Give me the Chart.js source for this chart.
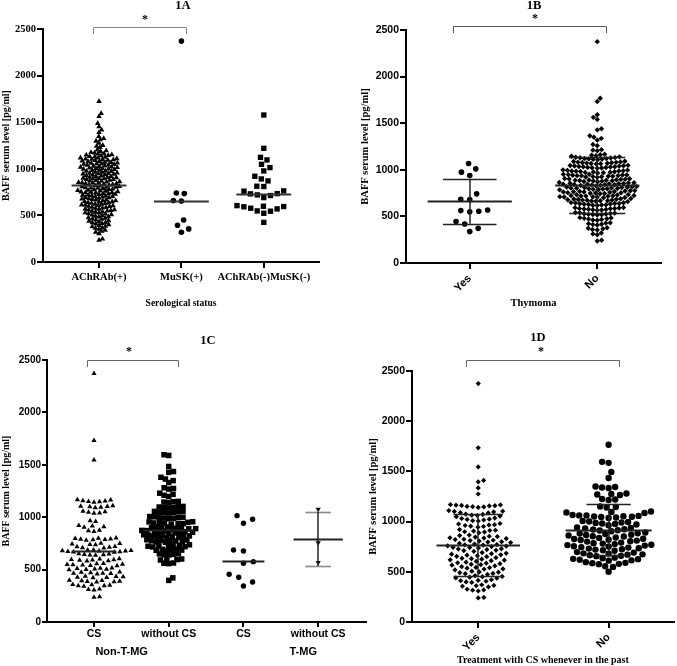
<!DOCTYPE html>
<html><head><meta charset="utf-8">
<script src="https://cdn.jsdelivr.net/npm/chart.js@4.4.1/dist/chart.umd.min.js"></script>
<style>
html,body{margin:0;padding:0;background:#fff}
body{width:677px;height:666px;position:relative;overflow:hidden}
.p{position:absolute}
canvas{display:block}
</style></head><body>
<div class="p" style="left:0;top:0"><canvas id="cA" width="338" height="320"></canvas></div>
<div class="p" style="left:338px;top:0"><canvas id="cB" width="339" height="320"></canvas></div>
<div class="p" style="left:0;top:320px"><canvas id="cC" width="370" height="346"></canvas></div>
<div class="p" style="left:338px;top:320px"><canvas id="cD" width="339" height="346"></canvas></div>
<script>
// ---------------- DATA ----------------
const yTicks = [0, 500, 1000, 1500, 2000, 2500];

// 1A  Serological status
const catsA = ['AChRAb(+)', 'MuSK(+)', 'AChRAb(-)MuSK(-)'];
const achrPos = [1722, 1594, 1563, 1488, 1452, 1418, 1391, 1347, 1326, 1312, 1298, 1276, 1252, 1243, 1229,
  1203, 1194, 1188, 1176, 1171, 1163, 1161, 1152, 1149, 1143,
  1141, 1133, 1130, 1124, 1118, 1117, 1109, 1106, 1103, 1099, 1097,
  1093, 1091, 1084, 1080, 1078, 1071, 1068, 1063, 1061, 1055, 1052, 1049,
  1046, 1041, 1039, 1032, 1029, 1027, 1020, 1017, 1014, 1009, 1005, 1004, 998,
  995, 993, 986, 984, 978, 974, 971, 965, 963, 957, 954, 951, 948,
  944, 942, 936, 934, 928, 925, 919, 917, 911, 908, 906, 901, 897,
  895, 893, 887, 885, 878, 876, 870, 868, 861, 859, 854, 851, 848,
  847, 842, 840, 834, 832, 827, 825, 819, 817, 811, 809, 804, 803, 797,
  795, 793, 787, 785, 779, 777, 771, 769, 763, 761, 756, 753, 750, 747,
  744, 742, 736, 734, 728, 726, 720, 718, 712, 710, 704, 703, 698,
  694, 691, 685, 682, 676, 673, 667, 665, 659, 657, 651, 648,
  646, 640, 637, 631, 628, 622, 620, 614, 612, 606, 604, 599,
  596, 589, 586, 580, 577, 570, 568, 561, 559, 553, 549,
  546, 539, 536, 529, 526, 519, 516, 509, 506, 499,
  493, 487, 483, 475, 471, 463, 459, 451,
  445, 437, 433, 425, 421, 413, 409, 401,
  393, 385, 379, 369, 363, 353, 343, 330, 319, 305, 247, 235];
const muskPos = [2370, 740, 735, 660, 655, 450, 395, 355, 320];
const doubleNeg = [1577, 1220, 1123, 1095, 1048, 1013, 977, 920, 891, 870, 813, 810, 763, 760, 734, 731,
  720, 713, 691, 605, 598, 595, 592, 577, 570, 548, 545, 523, 425];
const medianA = [830, 658, 733];

// 1B  Thymoma
const catsB = ['Yes', 'No'];
const thymYes = [1068, 1010, 975, 938, 742, 684, 680, 568, 562, 556, 550, 444, 418, 372, 338];
const thymNo = [2375, 1768, 1733, 1590, 1563, 1541, 1441, 1428, 1366, 1349, 1337, 1318, 1271, 1259,
  1216, 1211, 1204, 1167, 1161, 1156, 1152, 1146, 1139,
  1134, 1131, 1129, 1126, 1122, 1120, 1117, 1115, 1112, 1108,
  1091, 1089, 1085, 1082, 1080, 1079, 1076, 1072, 1070, 1068, 1065, 1063,
  1048, 1046, 1043, 1040, 1039, 1036, 1033, 1032, 1030, 1026, 1025, 1022, 1019, 1017,
  999, 996, 994, 991, 987, 986, 984, 981, 979, 977, 973, 972, 969, 966,
  953, 951, 948, 945, 944, 941, 938, 937, 935, 931, 930, 927, 926, 922, 919,
  906, 904, 901, 898, 897, 894, 891, 889, 888, 885, 882, 880, 878, 874, 872,
  863, 861, 858, 855, 853, 852, 849, 846, 845, 842, 840, 839, 836, 833, 831, 828,
  820, 818, 815, 812, 810, 809, 806, 803, 802, 800, 797, 796, 793, 790, 788, 785,
  777, 775, 772, 768, 767, 765, 762, 761, 759, 755, 754, 751, 749, 746, 743,
  734, 732, 729, 725, 724, 722, 719, 718, 716, 712, 711, 708, 707, 703, 700,
  692, 690, 687, 683, 682, 679, 676, 675, 673, 669, 668, 665, 662, 659,
  648, 646, 643, 639, 638, 635, 632, 631, 628, 625, 623, 620, 617,
  596, 594, 590, 586, 585, 582, 579, 577, 575, 571, 569, 566,
  541, 539, 535, 531, 529, 526, 522, 520, 517, 514,
  487, 484, 479, 474, 471, 467, 462, 459,
  432, 428, 422, 416, 412, 407, 378, 373, 366, 359, 354, 322, 312, 303, 245, 236];
const meanB = [661, 835];
const sdLowB = [421, 534];
const sdHighB = [900, 1136];

// 1C  Non-T-MG / T-MG, with or without CS
const catsC = ['CS', 'without CS', 'CS', 'without CS'];
const groupsC = ['Non-T-MG', 'T-MG'];
const nonTmgCS = [2372, 1732, 1545, 1166, 1163, 1158, 1154, 1151, 1148, 1143,
  1110, 1105, 1101, 1099, 1094, 1089, 1056, 1052, 1047, 1041, 1037, 966, 958,
  921, 915, 909, 904, 876, 870, 864,
  802, 799, 797, 793, 789, 787, 784, 779, 751, 748, 744, 739, 736,
  721, 718, 713, 708, 705, 688, 686, 683, 680, 678, 677, 673, 671, 668, 665,
  651, 649, 645, 641, 639, 636, 603, 601, 597, 593, 591, 589, 585, 582,
  558, 556, 552, 548, 546, 544, 540, 537, 516, 514, 510, 506, 504, 502, 498,
  476, 474, 470, 466, 464, 462, 458, 437, 435, 431, 427, 425, 422,
  399, 397, 393, 389, 387, 385, 381, 357, 355, 351, 347, 345, 342, 316, 311, 306, 241, 236];
const nonTmgNoCS = [1596, 1589, 1484, 1436, 1428, 1381, 1364, 1349, 1331, 1281, 1274, 1268,
  1229, 1218, 1209, 1198, 1151, 1148, 1144, 1139, 1103, 1101, 1097, 1093, 1091, 1088,
  1057, 1055, 1051, 1047, 1045, 1043, 1039, 1006, 1004, 1000, 996, 994, 992, 988, 985,
  957, 955, 951, 947, 945, 943, 939, 937, 933, 909, 907, 903, 899, 897, 895, 891, 889, 885,
  874, 872, 868, 864, 862, 860, 856, 854, 850, 847, 832, 830, 826, 822, 820, 818, 814, 812, 808, 805,
  785, 783, 779, 775, 773, 771, 767, 765, 761, 737, 735, 731, 727, 725, 723, 719, 716,
  696, 694, 690, 686, 684, 681, 652, 650, 646, 642, 640, 601, 599, 595, 592, 563, 561, 557, 421, 397];
const tmgCS = [1015, 980, 942, 687, 677, 576, 560, 455, 427, 382, 343];
const tmgNoCS = [1075, 756, 567];
const medianC = [678, 876, 580];
const meanTmgNoCS = 796, sdLowTmgNoCS = 535, sdHighTmgNoCS = 1051;

// 1D  Treatment with CS
const catsD = ['Yes', 'No'];
const csYes = [2375, 1735, 1545, 1410, 1395, 1335, 1275,
  1170, 1166, 1164, 1161, 1159, 1156, 1151, 1149, 1146, 1141,
  1110, 1104, 1101, 1096, 1089, 1086, 1075, 1071, 1064, 1061, 1055, 1049,
  1035, 1031, 1024, 1021, 1016, 1009, 1006, 981, 976, 969, 966, 961, 954, 951, 944,
  921, 914, 911, 906, 899, 896, 889, 866, 861, 854, 851, 846, 839, 836, 831, 824,
  821, 814, 811, 806, 799, 796, 791, 784, 776, 771, 769, 766, 759, 756, 751, 744, 741,
  736, 729, 726, 721, 714, 711, 704, 691, 684, 681, 676, 669, 666, 661, 654, 651,
  641, 634, 631, 626, 619, 616, 611, 604, 596, 589, 586, 581, 574, 571, 566, 559,
  551, 544, 541, 536, 529, 526, 519, 506, 499, 496, 491, 484, 481, 474,
  461, 454, 451, 446, 439, 436, 421, 414, 411, 406, 399, 394,
  371, 364, 361, 356, 349, 326, 319, 316, 309, 245, 240];
const csNo = [1765, 1595, 1585, 1495, 1435, 1350, 1345, 1340, 1335, 1280, 1275, 1270, 1265,
  1225, 1220, 1215, 1150, 1145, 1140, 1100, 1095, 1090, 1085,
  1066, 1062, 1061, 1057, 1054, 1051, 1049, 1046, 1041, 1036,
  1006, 1001, 996, 991, 987, 981, 976, 971, 964, 941, 936, 931, 924, 921, 914, 911, 904,
  891, 884, 881, 876, 869, 866, 861, 854, 851, 841, 836, 829, 826, 819, 816, 811, 804, 801,
  791, 784, 781, 776, 769, 766, 761, 754, 751, 746, 741, 734, 731, 724, 721, 714, 709,
  696, 691, 684, 681, 674, 671, 666, 659, 656, 641, 636, 629, 626, 621, 614, 611,
  596, 589, 586, 579, 576, 556, 549, 500];
const meanD = [764, 920];
const sdLowD = [455, 664];
const sdHighD = [1079, 1175];

// ---------------- DRAWING ----------------
const SERIF = "'Liberation Serif','Times New Roman',serif";
const SANS = "'Liberation Sans',Arial,sans-serif";

function swarm(vals, toPx, d) {
  const order = vals.map((v, i) => i).sort((a, b) => vals[a] - vals[b]);
  const placed = [], out = new Array(vals.length);
  let side = 1;
  for (const i of order) {
    const y = toPx(vals[i]);
    const iv = [];
    for (const p of placed) {
      const dy = Math.abs(p.y - y);
      if (dy < d) { const w = Math.sqrt(d * d - dy * dy); iv.push([p.x - w, p.x + w]); }
    }
    const cand = [0];
    for (const [a, b] of iv) cand.push(a, b);
    let best = null;
    for (const c of cand) {
      if (iv.some(([a, b]) => c > a + 1e-6 && c < b - 1e-6)) continue;
      if (best === null || Math.abs(c) < Math.abs(best) - 1e-6 ||
        (Math.abs(Math.abs(c) - Math.abs(best)) <= 1e-6 && Math.sign(c) === side)) best = c;
    }
    if (best !== 0) side = -Math.sign(best);
    placed.push({ x: best, y }); out[i] = best;
  }
  return out;
}

function decor(spec) {
  return {
    id: 'decor',
    afterDatasetsDraw(chart) {
      const ctx = chart.ctx, xs = chart.scales.x, ys = chart.scales.y;
      ctx.save();
      (spec.hlines || []).forEach(l => {
        ctx.strokeStyle = l.color || '#222'; ctx.lineWidth = l.w || 2;
        ctx.beginPath();
        const y = Math.round(ys.getPixelForValue(l.y)) + 0.5;
        ctx.moveTo(xs.getPixelForValue(l.x - l.half), y);
        ctx.lineTo(xs.getPixelForValue(l.x + l.half), y);
        ctx.stroke();
      });
      (spec.vlines || []).forEach(l => {
        ctx.strokeStyle = l.color || '#222'; ctx.lineWidth = l.w || 1.5;
        ctx.beginPath();
        const x = Math.round(xs.getPixelForValue(l.x));
        ctx.moveTo(x, ys.getPixelForValue(l.y1));
        ctx.lineTo(x, ys.getPixelForValue(l.y2));
        ctx.stroke();
      });
      ctx.restore();
    },
    afterDraw(chart) {
      const ctx = chart.ctx, xs = chart.scales.x;
      ctx.save();
      ctx.fillStyle = '#000';
      ctx.textAlign = 'center';
      ctx.textBaseline = 'middle';
      ctx.font = 'bold 12.5px ' + SERIF;
      ctx.fillText(spec.title, spec.titleX, spec.titleY);
      ctx.font = 'bold 12px ' + SERIF;
      ctx.textBaseline = 'alphabetic';
      ctx.fillText('*', spec.starX, spec.starY + 5.5);
      const b = spec.bracket;
      ctx.strokeStyle = b.color; ctx.lineWidth = 1;
      const x1 = Math.round(xs.getPixelForValue(b.x1)) + 0.5, x2 = Math.round(xs.getPixelForValue(b.x2)) + 0.5;
      ctx.beginPath();
      ctx.moveTo(x1, b.y2); ctx.lineTo(x1, b.y + 0.5); ctx.lineTo(x2, b.y + 0.5); ctx.lineTo(x2, b.y2);
      ctx.stroke();
      (spec.groupLabels || []).forEach(g => {
        ctx.font = 'bold 11px ' + SANS; ctx.textBaseline = 'middle';
        ctx.fillText(g.text, xs.getPixelForValue(g.x), g.y);
      });
      ctx.restore();
    }
  };
}

function buildChart(id, spec) {
  const ctx = document.getElementById(id).getContext('2d');
  const datasets = spec.groups.map(g => ({
    data: g.values.map(v => ({ x: g.x, y: v })),
    pointStyle: g.style, pointRadius: g.r, pointHoverRadius: g.r, pointRotation: g.rot || 0,
    backgroundColor: '#000', borderColor: '#000', borderWidth: 0, clip: false
  }));
  const axisCommon = {
    grid: { display: true, drawOnChartArea: false, drawTicks: true, tickLength: spec.tickLen || 6, color: '#000', lineWidth: 2 },
    border: { display: true, color: '#000', width: 2 }
  };
  const chart = new Chart(ctx, {
    type: 'scatter',
    data: { datasets },
    options: {
      responsive: false, animation: false, events: [],
      layout: { padding: { left: 0, top: spec.top, right: spec.right, bottom: 0 } },
      plugins: { legend: { display: false }, tooltip: { enabled: false } },
      scales: {
        x: Object.assign({}, axisCommon, {
          type: 'linear', min: spec.xmin, max: spec.xmax,
          afterBuildTicks: s => { s.ticks = spec.cats.map((c, i) => ({ value: i + 1 })); },
          afterFit: s => { s.height = spec.xh; },
          ticks: {
            autoSkip: false, color: '#000', padding: spec.xPad, minRotation: spec.rot, maxRotation: spec.rot,
            font: spec.xFont, callback: v => spec.cats[Math.round(v) - 1]
          },
          title: spec.xTitle ? { display: true, text: spec.xTitle, color: '#000', font: spec.xTitleFont, padding: { top: 0, bottom: spec.xTitlePad } } : { display: false }
        }),
        y: Object.assign({}, axisCommon, {
          type: 'linear', min: 0, max: 2500,
          afterBuildTicks: s => { s.ticks = yTicks.map(v => ({ value: v })); },
          afterFit: s => { s.width = spec.yw; },
          ticks: { color: '#000', padding: 1, font: spec.yFont, callback: v => String(v) },
          title: { display: true, text: 'BAFF serum level [pg/ml]', color: '#000', font: spec.yTitleFont, padding: { top: spec.yTitlePad, bottom: 0 } }
        })
      }
    },
    plugins: [decor(spec)]
  });
  const xs = chart.scales.x, ys = chart.scales.y;
  const pxPerCat = xs.getPixelForValue(2) - xs.getPixelForValue(1);
  spec.groups.forEach((g, gi) => {
    const off = swarm(g.values, v => ys.getPixelForValue(v), g.d);
    chart.data.datasets[gi].data = g.values.map((v, i) => ({ x: g.x + off[i] / pxPerCat, y: v }));
  });
  chart.update('none');
  return chart;
}

function meanSd(x, mean, lo, hi, half, capHalf, capColor) {
  return {
    h: [{ x, y: mean, half, w: 2, color: '#222' },
        { x, y: lo, half: capHalf, w: 1.6, color: capColor },
        { x, y: hi, half: capHalf, w: 1.6, color: capColor }],
    v: [{ x, y1: lo, y2: hi, w: 1.5, color: '#222' }]
  };
}

// ---- 1A
buildChart('cA', {
  cats: catsA, xmin: 0.32, xmax: 3.67, top: 29, right: 19, yw: 43, xh: 58, rot: 0, xPad: 3,
  xFont: { family: SERIF, size: 10.5, weight: 'bold' },
  yFont: { family: SERIF, size: 10.5, weight: 'bold' },
  xTitle: 'Serological status', xTitleFont: { family: SERIF, size: 9.5, weight: 'bold' }, xTitlePad: 11,
  yTitleFont: { family: SERIF, size: 10, weight: 'bold' }, yTitlePad: 0,
  groups: [
    { values: achrPos, x: 1, style: 'triangle', r: 3.2, d: 3.6 },
    { values: muskPos, x: 2, style: 'circle', r: 2.8, d: 8 },
    { values: doubleNeg, x: 3, style: 'rect', r: 3.8, d: 7 }
  ],
  hlines: medianA.map((m, i) => ({ x: i + 1, y: m, half: 0.333, w: 2, color: '#333' })),
  title: '1A', titleX: 183, titleY: 6, starX: 145, starY: 17,
  bracket: { x1: 0.93, x2: 2.05, y: 27, y2: 34, color: '#888' }
});

// ---- 1B
const bY = meanSd(1, meanB[0], sdLowB[0], sdHighB[0], 0.33, 0.21, '#222');
const bN = meanSd(2, meanB[1], sdLowB[1], sdHighB[1], 0.33, 0.22, '#222');
buildChart('cB', {
  cats: catsB, xmin: 0.5, xmax: 2.5, top: 30, right: 16, yw: 68, xh: 57, rot: 45, xPad: 3,
  xFont: { family: SANS, size: 11, weight: 'bold' },
  yFont: { family: SANS, size: 10.5, weight: 'bold' },
  xTitle: 'Thymoma', xTitleFont: { family: SERIF, size: 10.5, weight: 'bold' }, xTitlePad: 10.7,
  yTitleFont: { family: SERIF, size: 10.5, weight: 'bold' }, yTitlePad: 20.5,
  groups: [
    { values: thymYes, x: 1, style: 'circle', r: 2.8, d: 9 },
    { values: thymNo, x: 2, style: 'rectRot', r: 2.7, d: 4.4 }
  ],
  hlines: bY.h.concat(bN.h), vlines: bY.v.concat(bN.v),
  title: '1B', titleX: 196, titleY: 6, starX: 197, starY: 16,
  bracket: { x1: 0.87, x2: 2.07, y: 26, y2: 33, color: '#555' }
});

// ---- 1C
const cT = meanSd(4, meanTmgNoCS, sdLowTmgNoCS, sdHighTmgNoCS, 0.33, 0.17, '#888');
buildChart('cC', {
  cats: catsC, xmin: 0.371, xmax: 4.64, top: 40, right: 4, yw: 47, xh: 44, rot: 0, xPad: 1, tickLen: 5,
  xFont: { family: SANS, size: 10.5, weight: 'bold' },
  yFont: { family: SANS, size: 10, weight: 'bold' },
  xTitle: null,
  yTitleFont: { family: SERIF, size: 10, weight: 'bold' }, yTitlePad: 0,
  groups: [
    { values: nonTmgCS, x: 1, style: 'triangle', r: 3, d: 5.6 },
    { values: nonTmgNoCS, x: 2, style: 'rect', r: 3.9, d: 4.8 },
    { values: tmgCS, x: 3, style: 'circle', r: 2.7, d: 10 },
    { values: tmgNoCS, x: 4, style: 'triangle', r: 3, rot: 180, d: 5 }
  ],
  hlines: medianC.map((m, i) => ({ x: i + 1, y: m, half: [0.3, 0.34, 0.28][i], w: 2, color: '#222' })).concat(cT.h),
  vlines: cT.v,
  groupLabels: [{ text: groupsC[0], x: 1.37, y: 332 }, { text: groupsC[1], x: 3.8, y: 332 }],
  title: '1C', titleX: 208, titleY: 21, starX: 129, starY: 29,
  bracket: { x1: 0.906, x2: 2.125, y: 40, y2: 47, color: '#666' }
});

// ---- 1D
const dY = meanSd(1, meanD[0], sdLowD[0], sdHighD[0], 0.32, 0.19, '#222');
const dN = meanSd(2, meanD[1], sdLowD[1], sdHighD[1], 0.33, 0.17, '#222');
buildChart('cD', {
  cats: catsD, xmin: 0.492, xmax: 2.5, top: 51, right: 0, yw: 74, xh: 44, rot: 45, xPad: 3,
  xFont: { family: SANS, size: 11, weight: 'bold' },
  yFont: { family: SANS, size: 10.5, weight: 'bold' },
  xTitle: 'Treatment with CS whenever in the past', xTitleFont: { family: SERIF, size: 10, weight: 'bold' }, xTitlePad: 0,
  yTitleFont: { family: SERIF, size: 10.5, weight: 'bold' }, yTitlePad: 28.5,
  groups: [
    { values: csYes, x: 1, style: 'rectRot', r: 2.6, d: 5.6 },
    { values: csNo, x: 2, style: 'circle', r: 3.2, d: 6.6 }
  ],
  hlines: dY.h.concat(dN.h), vlines: dY.v.concat(dN.v),
  title: '1D', titleX: 200, titleY: 18, starX: 203, starY: 29,
  bracket: { x1: 0.91, x2: 2.08, y: 40, y2: 47, color: '#666' }
});
</script>
</body></html>
